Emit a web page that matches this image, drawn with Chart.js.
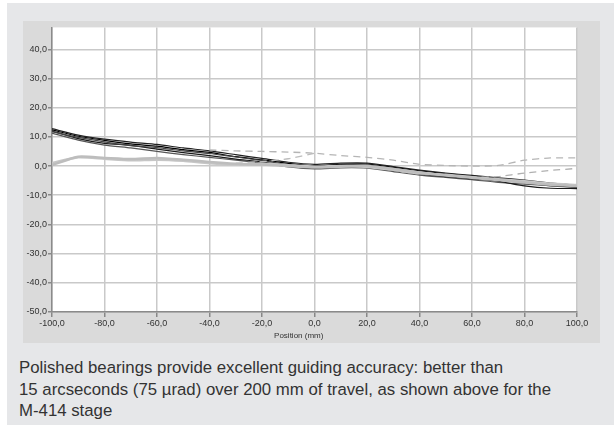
<!DOCTYPE html>
<html>
<head>
<meta charset="utf-8">
<script src="https://cdn.jsdelivr.net/npm/chart.js@4.4.1/dist/chart.umd.min.js"></script>
<style>
  html, body { margin: 0; padding: 0; background: #ffffff; }
  #panel { position: absolute; left: 7px; top: 3px; width: 607px; height: 422px; background: #e6e7e9; }
  #box { position: absolute; left: 16px; top: 18px; width: 577px; height: 322px; background: #dadada; }
  #caption { position: absolute; left: 12px; top: 354px; width: 595px; font-family: "Liberation Sans", Arial, sans-serif;
             font-size: 16.8px; line-height: 21.5px; color: #333333; }
</style>
</head>
<body>
<div id="panel">
  <div id="box"><canvas id="chart-guiding" width="577" height="322"></canvas></div>
  <div id="caption">Polished bearings provide excellent guiding accuracy: better than<br>15 arcseconds (75 µrad) over 200 mm of travel, as shown above for the<br>M-414 stage</div>
</div>
<script>
// posição em mm e desvio medido em µrad
const posicoes = [-100, -90, -80, -70, -60, -50, -40, -30, -20, -10, 0, 10, 20, 30, 40, 50, 60, 70, 80, 90, 100];

const preta1 = [12.8, 10.6, 9.2, 8.2, 7.4, 6.2, 5.2, 3.9, 2.6, 1.3, 0.6, 1.0, 1.0, -0.2, -1.4, -2.4, -3.2, -4.0, -4.8, -5.8, -6.6];
const preta2 = [11.8, 9.8, 8.3, 7.0, 6.3, 5.2, 4.3, 3.1, 1.9, 0.5, -0.3, 0.2, 0.3, -0.8, -2.2, -3.2, -4.0, -4.8, -5.8, -6.8, -7.3];
const preta3 = [12.0, 9.4, 7.8, 7.1, 5.8, 4.6, 3.6, 2.4, 1.4, 0.0, -0.8, -0.3, -0.2, -1.4, -2.7, -3.6, -4.4, -5.2, -6.8, -7.6, -7.7];
const preta4 = [11.3, 8.9, 7.2, 6.2, 5.0, 3.9, 3.0, 2.0, 1.0, -0.3, -1.0, -0.6, -0.7, -1.9, -3.1, -3.9, -4.7, -5.6, -6.2, -6.7, -7.0];
const preta5 = [12.4, 10.2, 8.8, 7.6, 6.8, 5.6, 4.7, 3.2, 2.1, 0.9, 0.1, 0.6, 0.7, -0.4, -1.6, -2.6, -3.4, -4.2, -5.2, -6.2, -6.9];

const cinza1 = [0.3, 3.2, 2.8, 2.4, 2.8, 2.2, 1.4, 0.8, 0.5, 0.0, -0.5, -0.2, 0.0, -1.0, -2.2, -3.2, -4.0, -4.8, -5.6, -6.4, -6.8];
const cinza2 = [1.0, 3.0, 2.5, 2.0, 2.2, 1.8, 1.0, 0.6, 0.8, 0.3, -0.2, 0.0, -0.3, -1.3, -2.5, -3.0, -3.8, -4.5, -5.2, -6.0, -6.5];

const tracejada1 = [null, null, null, null, null, null, 5.5, 5.2, 5.0, 4.8, 4.4, 3.6, 3.0, 2.0, 0.6, 0.2, 0.0, 0.2, 2.0, 2.8, 2.8];
const tracejada2 = [null, null, null, null, null, null, null, 1.0, 1.5, 2.5, 4.4, null, null, null, null, null, null, null, null, null, null];
const tracejada3 = [null, null, null, null, null, null, null, null, null, null, null, null, null, null, null, -3.0, -3.8, -3.6, -2.4, -1.5, -0.8];

const ticksY = [-50, -40, -30, -20, -10, 0, 10, 20, 30, 40];
const ticksX = [-100, -80, -60, -40, -20, 0, 20, 40, 60, 80, 100];

function pontos(valores) {
    const lista = [];
    for (let i = 0; i < posicoes.length; ++i) {
        lista.push({x: posicoes[i], y: valores[i]});
    }
    return lista;
}

function serie(valores, cor, largura, tracos) {
    return {
        data: pontos(valores),
        borderColor: cor,
        borderWidth: largura,
        borderDash: tracos || [],
        pointRadius: 0,
        tension: 0.2,
        spanGaps: false,
        fill: false
    };
}

const fmt = (v) => v.toFixed(1).replace('.', ',');

// fundo branco só na área do gráfico
const fundoBranco = {
    id: 'fundoBranco',
    beforeDraw(chart) {
        const a = chart.chartArea;
        chart.ctx.save();
        chart.ctx.fillStyle = '#ffffff';
        chart.ctx.fillRect(a.left, a.top, a.right - a.left, a.bottom - a.top);
        chart.ctx.restore();
    }
};

// título do eixo x, um pouco à esquerda do centro como no original
const tituloX = {
    id: 'tituloX',
    afterDraw(chart) {
        const ctx = chart.ctx;
        const x = chart.scales.x.getPixelForValue(-6);
        ctx.save();
        ctx.font = '8px "Liberation Sans", Arial, sans-serif';
        ctx.fillStyle = '#333333';
        ctx.textAlign = 'center';
        ctx.textBaseline = 'middle';
        ctx.fillText('Position (mm)', x, 315);
        ctx.restore();
    }
};

var chartGuia = new Chart(document.getElementById('chart-guiding').getContext('2d'), {
    type: 'line',
    data: {
        datasets: [
            serie(cinza1, '#bdbdbd', 2.5),
            serie(cinza2, '#c6c6c6', 2.5),
            serie(tracejada1, '#b5b5b5', 1.3, [7, 5]),
            serie(tracejada2, '#bdbdbd', 1.3, [7, 5]),
            serie(tracejada3, '#b0b0b0', 1.3, [7, 5]),
            serie(preta1, '#222222', 1.2),
            serie(preta2, '#444444', 1.2),
            serie(preta3, '#1a1a1a', 1.2),
            serie(preta4, '#555555', 1.2),
            serie(preta5, '#000000', 1.2)
        ]
    },
    options: {
        responsive: false,
        animation: false,
        layout: {padding: {left: 0, top: 0, right: 23, bottom: 0}},
        scales: {
            x: {
                type: 'linear',
                min: -100,
                max: 100,
                afterBuildTicks: (s) => { s.ticks = ticksX.map(v => ({value: v})); },
                afterFit: (s) => { s.height = 31; },
                grid: {color: '#c9c9c9', lineWidth: 1.5, tickLength: 5, tickColor: '#888888', drawOnChartArea: true},
                border: {color: '#8a8a8a', width: 1.5},
                ticks: {
                    callback: (v) => fmt(v),
                    color: '#333333',
                    padding: 1,
                    maxRotation: 0,
                    autoSkip: false,
                    font: {size: 9, family: '"Liberation Sans", Arial, sans-serif'}
                }
            },
            y: {
                min: -50,
                max: 47.5,
                afterBuildTicks: (s) => { s.ticks = ticksY.map(v => ({value: v})); },
                afterFit: (s) => { s.width = 29; },
                grid: {color: '#c9c9c9', lineWidth: 1.5, tickLength: 4, tickColor: '#888888'},
                border: {color: '#8a8a8a', width: 1.5},
                ticks: {
                    callback: (v) => fmt(v),
                    color: '#333333',
                    padding: 1,
                    autoSkip: false,
                    font: {size: 9, family: '"Liberation Sans", Arial, sans-serif'}
                }
            }
        },
        plugins: {
            legend: {display: false},
            tooltip: {enabled: false},
            title: {display: false}
        }
    },
    plugins: [fundoBranco, tituloX]
});
</script>
</body>
</html>
